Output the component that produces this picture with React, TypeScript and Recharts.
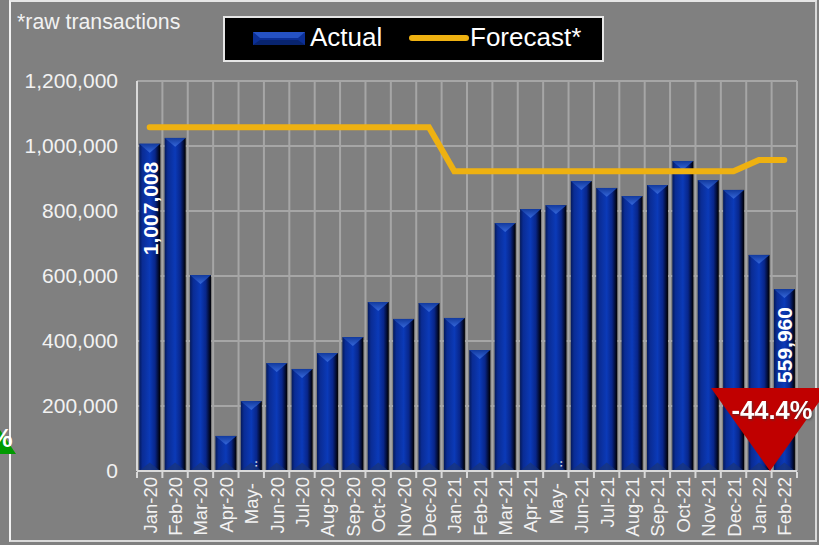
import { Bar, CartesianGrid, ComposedChart, LabelList, Legend, Line, XAxis, YAxis } from 'recharts';

const months = [
    'Jan-20', 'Feb-20', 'Mar-20', 'Apr-20', 'May-:', 'Jun-20', 'Jul-20', 'Aug-20', 'Sep-20',
    'Oct-20', 'Nov-20', 'Dec-20', 'Jan-21', 'Feb-21', 'Mar-21', 'Apr-21', 'May-:', 'Jun-21',
    'Jul-21', 'Aug-21', 'Sep-21', 'Oct-21', 'Nov-21', 'Dec-21', 'Jan-22', 'Feb-22',
];
const actual = [
    1007008, 1025000, 603000, 108000, 215000, 332000, 314000, 363000, 412000,
    520000, 468000, 517000, 471000, 372000, 763000, 806000, 818000, 892000,
    871000, 846000, 880000, 954000, 895000, 865000, 665000, 559960,
];
const forecast = [
    1058000, 1058000, 1058000, 1058000, 1058000, 1058000, 1058000, 1058000, 1058000,
    1058000, 1058000, 1058000, 922000, 922000, 922000, 922000, 922000, 922000,
    922000, 922000, 922000, 922000, 922000, 922000, 957000, 957000,
];
const yTicks = [0, 200000, 400000, 600000, 800000, 1000000, 1200000];
const labelledMonths = [0, 25];

const data = months.map((month, i) => ({ month, i, actual: actual[i], forecast: forecast[i] }));

const FONT = '"Liberation Sans", Arial, sans-serif';
const TEXT = '#f2f2f2';
const GRID = '#a6a6a6';
const AXIS = '#d9d9d9';

function BevelBar({ x, y, width, height }: any) {
    const mid = x + width / 2;
    const cap = Math.min(width / 2, height);
    return (
        <g>
            <rect x={x} y={y} width={width} height={height} fill="url(#barFill)" />
            <polygon points={`${x},${y} ${x + width},${y} ${mid},${y + cap * 0.85}`} fill="url(#barCap)" />
            <polygon
                points={`${x},${y + height} ${x + width},${y + height} ${mid},${y + height - cap * 0.8}`}
                fill="#1a3478"
                fillOpacity={0.7}
            />
        </g>
    );
}

function MonthTick({ x, y, payload, index, visibleTicksCount }: any) {
    const step = 25.38;
    const [head, tail] = String(payload.value).split(':');
    const isCut = tail !== undefined;
    const lastTick = index === months.length - 1 || index === visibleTicksCount - 1;
    return (
        <g>
            <line x1={x - step / 2} x2={x - step / 2} y1={y - 7} y2={y - 1} stroke={AXIS} strokeWidth={2} />
            {lastTick && <line x1={x + step / 2} x2={x + step / 2} y1={y - 7} y2={y - 1} stroke={AXIS} strokeWidth={2} />}
            <text
                transform={`translate(${x + 7},${isCut ? y + 4 : y - 2}) rotate(-90)`}
                textAnchor="end"
                fill={TEXT}
                fontFamily={FONT}
                fontSize={18.5}
            >
                {head}
            </text>
            {isCut && (
                <text
                    transform={`translate(${x + 6},${y - 19}) rotate(-90)`}
                    textAnchor="end"
                    fill={TEXT}
                    fontFamily={FONT}
                    fontSize={14}
                >
                    ..
                </text>
            )}
        </g>
    );
}

function ValueLabel({ x, y, width, value, index }: any) {
    if (!labelledMonths.includes(index)) return null;
    return (
        <text
            transform={`translate(${x + width / 2 + 8},${y + 18}) rotate(-90)`}
            textAnchor="end"
            fill="#ffffff"
            fontFamily={FONT}
            fontWeight="bold"
            fontSize={21}
        >
            {Number(value).toLocaleString('en-US')}
        </text>
    );
}

function LegendBox() {
    return (
        <div
            style={{
                boxSizing: 'border-box',
                width: 381,
                height: 46,
                background: '#000',
                border: '2px solid #e6e6e6',
                position: 'relative',
                color: '#fff',
                fontFamily: FONT,
                fontSize: 26,
                lineHeight: '42px',
            }}
        >
            <svg width={377} height={42} style={{ position: 'absolute', left: 0, top: 0 }}>
                <rect x={28} y={14} width={52} height={13} fill="#0b2f96" />
                <polygon points="28,14 80,14 73,20 35,20" fill="#2552c4" />
                <polygon points="28,27 80,27 73,22 35,22" fill="#08246f" />
                <line x1={187} x2={241} y1={20} y2={20} stroke="#eeb111" strokeWidth={6} strokeLinecap="round" />
            </svg>
            <span style={{ position: 'absolute', left: 85, top: -2 }}>Actual</span>
            <span style={{ position: 'absolute', left: 245, top: -2 }}>Forecast*</span>
        </div>
    );
}

export default function App() {
    return (
        <div
            style={{
                position: 'fixed',
                left: 0,
                top: 0,
                width: 819,
                height: 545,
                overflow: 'hidden',
                background: '#808080',
            }}
        >
            <div
                style={{
                    position: 'absolute',
                    left: 9,
                    top: 0,
                    width: 808,
                    height: 542,
                    boxSizing: 'border-box',
                    borderLeft: '2px solid #f2f2f2',
                    borderTop: '2px solid #e6e6e6',
                    borderRight: '2px solid #d9d9d9',
                    borderBottom: '2px solid #d9d9d9',
                }}
            />
            <ComposedChart
                width={819}
                height={545}
                data={data}
                margin={{ top: 35, right: 22, bottom: 0, left: 0 }}
                barCategoryGap="9%"
                style={{ position: 'absolute', left: 0, top: 0 }}
            >
                <defs>
                    <linearGradient id="barFill" x1="0" y1="0" x2="1" y2="0">
                        <stop offset="0%" stopColor="#041a5c" />
                        <stop offset="15%" stopColor="#0a2c94" />
                        <stop offset="50%" stopColor="#0b3ab8" />
                        <stop offset="75%" stopColor="#08268a" />
                        <stop offset="92%" stopColor="#020a2c" />
                        <stop offset="100%" stopColor="#000000" />
                    </linearGradient>
                    <linearGradient id="barCap" x1="0" y1="0" x2="0" y2="1">
                        <stop offset="0%" stopColor="#123a9e" />
                        <stop offset="100%" stopColor="#3567da" />
                    </linearGradient>
                </defs>
                <CartesianGrid
                    stroke={GRID}
                    strokeWidth={2}
                    verticalCoordinatesGenerator={({ offset }: any) =>
                        Array.from(
                            { length: months.length + 1 },
                            (_, i) => offset.left + (i * offset.width) / months.length,
                        )
                    }
                />
                <XAxis
                    dataKey="i"
                    type="category"
                    height={74}
                    interval={0}
                    axisLine={{ stroke: AXIS, strokeWidth: 2 }}
                    tickLine={false}
                    tick={(props: any) => (
                        <MonthTick {...props} payload={{ value: months[props.payload.value] }} />
                    )}
                />
                <YAxis
                    width={137}
                    domain={[0, 1200000]}
                    ticks={yTicks}
                    interval={0}
                    axisLine={{ stroke: AXIS, strokeWidth: 2 }}
                    tickLine={false}
                    tickMargin={13}
                    tickFormatter={(v: number) => v.toLocaleString('en-US')}
                    tick={{ fill: TEXT, fontSize: 21, fontFamily: FONT }}
                />
                <Legend
                    verticalAlign="top"
                    content={() => <LegendBox />}
                    wrapperStyle={{ position: 'absolute', left: 223, top: 16, width: 381 }}
                />
                <Bar dataKey="actual" name="Actual" shape={<BevelBar />} isAnimationActive={false}>
                    <LabelList dataKey="actual" content={(props: any) => <ValueLabel {...props} />} />
                </Bar>
                <Line
                    dataKey="forecast"
                    name="Forecast*"
                    type="linear"
                    stroke="#eeb111"
                    strokeWidth={6}
                    strokeLinecap="round"
                    dot={false}
                    isAnimationActive={false}
                />
            </ComposedChart>
            <div
                style={{
                    position: 'absolute',
                    left: 17,
                    top: 10,
                    color: TEXT,
                    fontFamily: FONT,
                    fontSize: 21.3,
                    whiteSpace: 'nowrap',
                }}
            >
                *raw transactions
            </div>
            <svg width={819} height={545} style={{ position: 'absolute', left: 0, top: 0 }}>
                <polygon points="-20,454 16,454 -2,427" fill="#009a00" />
                <text x={1} y={447} fill="#fff" fontFamily={FONT} fontWeight="bold" fontSize={26} textAnchor="middle">
                    %
                </text>
                <polygon points="711,388 829,388 770,471" fill="#c00000" />
                <text
                    x={772}
                    y={419}
                    fill="#fff"
                    fontFamily={FONT}
                    fontWeight="bold"
                    fontSize={25.5}
                    textAnchor="middle"
                    style={{ filter: 'drop-shadow(1px 1px 1px rgba(60,60,60,0.7))' }}
                >
                    -44.4%
                </text>
            </svg>
        </div>
    );
}
